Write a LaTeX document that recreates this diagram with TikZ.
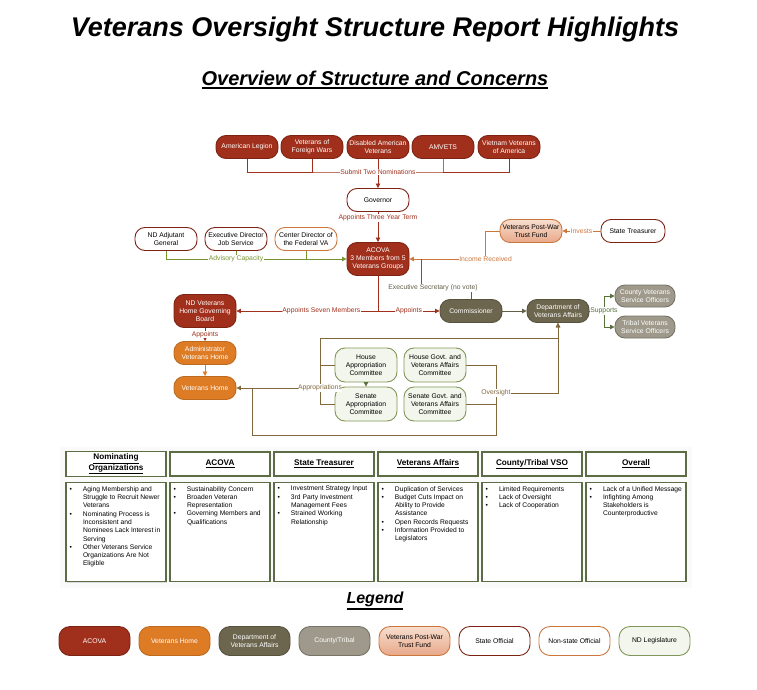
\documentclass[tikz,border=0pt]{standalone}
\usepackage{fontspec}
\setmainfont{Liberation Sans}
\usetikzlibrary{arrows.meta,positioning,shadows,calc}
\definecolor{acovared}{RGB}{160,48,28}
\definecolor{acovadark}{RGB}{125,35,20}
\definecolor{homeorange}{RGB}{222,124,38}
\definecolor{dvaolive}{RGB}{108,102,78}
\definecolor{vsogray}{RGB}{158,153,138}
\definecolor{trustorange}{RGB}{205,118,60}
\definecolor{trusttop}{RGB}{247,222,206}
\definecolor{trustbot}{RGB}{232,168,138}
\definecolor{legisgreen}{RGB}{128,150,88}
\definecolor{legisfill}{RGB}{243,246,236}
\definecolor{advgreen}{RGB}{118,148,52}
\definecolor{suppgreen}{RGB}{88,112,60}
\definecolor{apprbrown}{RGB}{128,104,60}
\definecolor{secgray}{RGB}{98,94,72}
\definecolor{tableline}{RGB}{92,108,68}
\newcommand{\thickul}[1]{\leavevmode\vtop{\hbox{#1}\kern1pt\hrule height 1.4pt}}
\newcommand{\bul}[1]{\hangindent=15pt\hangafter=1\noindent\makebox[15pt][l]{\hspace{1.5pt}\textbullet}#1\par}
\newcommand{\bodytext}[1]{\parbox[c][91pt][t]{96pt}{\fontsize{6.7}{8.3}\selectfont\raggedright #1}}
\tikzset{
  orgbox/.style={rectangle,rounded corners=10pt,line width=0.9pt,
    minimum width=62pt,minimum height=23pt,inner sep=1pt,align=center,
    font=\fontsize{6.8}{8}\selectfont},
  acovanode/.style={orgbox,fill=acovared,draw=acovadark,text=white},
  homenode/.style={orgbox,fill=homeorange,draw=homeorange!85!black,text=white},
  dvanode/.style={orgbox,fill=dvaolive,draw=dvaolive!80!black,text=white},
  vsonode/.style={orgbox,fill=vsogray,draw=vsogray!75!black,text=white},
  trustnode/.style={orgbox,top color=trusttop,bottom color=trustbot,draw=trustorange},
  statenode/.style={orgbox,fill=white,draw=acovadark},
  nonstatenode/.style={orgbox,fill=white,draw=trustorange},
  legisnode/.style={orgbox,fill=legisfill,draw=legisgreen},
  legbox/.style={minimum width=71pt,minimum height=29pt,rounded corners=11pt},
  lbl/.style={fill=white,inner sep=0.5pt,font=\fontsize{6.8}{8}\selectfont,text=#1},
  tip/.style={-{Triangle[length=4.5pt,width=4.5pt]}},
  redline/.style={line width=0.8pt,draw=acovared},
  redarrow/.style={redline,tip},
  advline/.style={line width=0.8pt,draw=advgreen},
  advarrow/.style={advline,tip},
  orgarrow/.style={line width=0.8pt,draw=trustorange,tip},
  secline/.style={line width=0.8pt,draw=secgray},
  grayarrow/.style={secline,tip},
  suppline/.style={line width=0.8pt,draw=suppgreen},
  supparrow/.style={suppline,tip},
  homearrow/.style={line width=0.8pt,draw=homeorange,tip},
  brnline/.style={line width=0.8pt,draw=apprbrown},
  brnarrow/.style={brnline,tip},
  hdrbox/.style={rectangle,draw=tableline,line width=1.2pt,fill=white,
    minimum width=100pt,minimum height=24pt,inner sep=2pt,align=center,
    font=\fontsize{8.2}{9.5}\selectfont\bfseries,
    drop shadow={opacity=0.25,shadow xshift=1pt,shadow yshift=-1.2pt}},
  bodybox/.style={rectangle,draw=tableline,line width=1.2pt,fill=white,
    minimum width=100pt,minimum height=99pt,inner sep=2pt,
    drop shadow={opacity=0.25,shadow xshift=1pt,shadow yshift=-1.2pt}},
}
\begin{document}
\begin{tikzpicture}[x=1pt,y=-1pt]
\useasboundingbox (0,0) rectangle (757,690);

%% ── titles ───────────────────────────────────────────────────────────────
\node[font=\fontsize{27}{30}\selectfont\bfseries\itshape] (title) at (375,30)
  {Veterans Oversight Structure Report Highlights};
\node[font=\fontsize{20}{24}\selectfont\bfseries\itshape] (subtitle) at (375,80)
  {\thickul{Overview of Structure and Concerns}};

%% ── nominating organizations ─────────────────────────────────────────────
\node[acovanode] (al)  at (247,147) {American Legion};
\node[acovanode] (vfw) at (312,147) {Veterans of\\Foreign Wars};
\node[acovanode] (dav) at (378,147) {Disabled American\\Veterans};
\node[acovanode] (amv) at (443,147) {AMVETS};
\node[acovanode] (vva) at (509,147) {Vietnam Veterans\\of America};
\node[statenode] (gov) at (378,200) {Governor};
\node[acovanode,minimum height=33pt] (acova) at (378,259)
  {ACOVA\\3 Members from 5\\Veterans Groups};

%% ── advisory and funding ─────────────────────────────────────────────────
\node[statenode] (adj)   at (166,239) {ND Adjutant\\General};
\node[statenode] (jobs)  at (236,239) {Executive Director\\Job Service};
\node[nonstatenode] (fedva) at (306,239) {Center Director of\\the Federal VA};
\node[trustnode] (trust) at (531,231) {Veterans Post-War\\Trust Fund};
\node[statenode,minimum width=64pt] (treas) at (633,231) {State Treasurer};

%% ── executive branch ─────────────────────────────────────────────────────
\node[dvanode] (comm) at (471,311) {Commissioner};
\node[dvanode] (dva)  at (558,311) {Department of\\Veterans Affairs};
\node[vsonode,minimum width=60pt,minimum height=22pt] (cvso) at (645,296)
  {County Veterans\\Service Officers};
\node[vsonode,minimum width=60pt,minimum height=22pt] (tvso) at (645,327)
  {Tribal Veterans\\Service Officers};

%% ── veterans home ────────────────────────────────────────────────────────
\node[acovanode,minimum height=33pt] (board) at (205,311)
  {ND Veterans\\Home Governing\\Board};
\node[homenode] (admin)   at (205,353) {Administrator\\Veterans Home};
\node[homenode] (vethome) at (205,388) {Veterans Home};

%% ── legislature ──────────────────────────────────────────────────────────
\node[legisnode,minimum height=34pt] (hac) at (366,365)
  {House\\Appropriation\\Committee};
\node[legisnode,minimum height=34pt] (sac) at (366,404)
  {Senate\\Appropriation\\Committee};
\node[legisnode,minimum height=34pt] (hgc) at (435,365)
  {House Govt. and\\Veterans Affairs\\Committee};
\node[legisnode,minimum height=34pt] (sgc) at (435,404)
  {Senate Govt. and\\Veterans Affairs\\Committee};

%% ── relationships ────────────────────────────────────────────────────────
% nominations to governor
\coordinate (nom) at (378,172);
\draw[redline] (al.south) |- (nom) -| (vva.south);
\draw[redline] (vfw.south) -- (vfw.south |- nom);
\draw[redline] (dav.south) -- (nom);
\draw[advline] (amv.south) -- (amv.south |- nom);
\draw[redarrow] (nom) node[lbl=acovared]{Submit Two Nominations} -- (gov.north);
\draw[redarrow] (gov.south) -- node[lbl=acovared,pos=0.2]{Appoints Three Year Term}
  (acova.north);
% advisory capacity
\draw[advarrow] (adj.south) |- (acova.west);
\draw[advline] (jobs.south) -- (jobs.south |- acova.west)
  node[lbl=advgreen]{Advisory Capacity};
\draw[advline] (fedva.south) -- (fedva.south |- acova.west);
% trust fund
\draw[orgarrow] (treas.west) -- node[lbl=trustorange]{Invests} (trust.east);
\draw[orgarrow] (trust.west) -- ++(-14,0) |- node[lbl=trustorange,pos=0.5]{Income Received}
  (acova.east);
% executive secretary
\coordinate (es) at (421,259);
\draw[secline] (comm.north) -- (comm.north |- 0,288) -| (es);
\node[lbl=secgray] (eslbl) at (433,288) {Executive Secretary (no vote)};
% appointments
\coordinate (apj) at (378,311);
\draw[redline] (acova.south) -- (apj);
\draw[redarrow] (apj) -- node[lbl=acovared,pos=0.4]{Appoints Seven Members} (board.east);
\draw[redarrow] (apj) -- node[lbl=acovared]{Appoints} (comm.west);
\draw[grayarrow] (comm.east) -- (dva.west);
% supports
\coordinate (sup) at (604,311);
\draw[suppline] (dva.east) -- (sup);
\draw[supparrow] (sup) |- (cvso.west);
\draw[supparrow] (sup) |- (tvso.west);
\node[lbl=suppgreen] at (sup) {Supports};
% veterans home chain
\draw[redarrow] (board.south) -- node[lbl=acovared]{Appoints} (admin.north);
\draw[homearrow] (admin.south) -- (vethome.north);
% appropriations
\draw[supparrow] (hac.south) -- (sac.north);
\coordinate (apr) at (320,388);
\draw[brnarrow] (hac.west) -| (320,338) -| (dva.south);
\draw[brnline] (sac.west) -| (320,365);
\draw[brnarrow] (apr) node[lbl=apprbrown]{Appropriations} -- (vethome.east);
% oversight
\coordinate (ovs) at (496,393);
\coordinate (ovb) at (496,435);
\coordinate (ovl) at (252,388);
\draw[brnline] (hgc.east) -| (ovb) -| (ovl);
\draw[brnline] (sgc.east) -- (sgc.east -| ovs);
\draw[brnarrow] (ovs) node[lbl=apprbrown]{Oversight} -| (dva.south);

%% ── concerns table ───────────────────────────────────────────────────────
\fill[black!2] (60,447) rectangle (692,588);
\node[hdrbox] (hnom) at (116,464) {\underline{Nominating}\\\underline{Organizations}};
\node[bodybox, below=5pt of hnom] (bnom) {\bodytext{%
  \bul{Aging Membership and\newline Struggle to Recruit Newer\newline Veterans}
  \bul{Nominating Process is\newline Inconsistent and\newline Nominees Lack Interest in\newline Serving}
  \bul{Other Veterans Service\newline Organizations Are Not\newline Eligible}}};
\node[hdrbox] (hacova) at (220,464) {\underline{ACOVA}};
\node[bodybox, below=5pt of hacova] (bacova) {\bodytext{%
  \bul{Sustainability Concern}
  \bul{Broaden Veteran\newline Representation}
  \bul{Governing Members and\newline Qualifications}}};
\node[hdrbox] (htreas) at (324,464) {\underline{State Treasurer}};
\node[bodybox, below=5pt of htreas] (btreas) {\bodytext{%
  \bul{Investment Strategy Input}
  \bul{3rd Party Investment\newline Management Fees}
  \bul{Strained Working\newline Relationship}}};
\node[hdrbox] (hva) at (428,464) {\underline{Veterans Affairs}};
\node[bodybox, below=5pt of hva] (bva) {\bodytext{%
  \bul{Duplication of Services}
  \bul{Budget Cuts Impact on\newline Ability to Provide\newline Assistance}
  \bul{Open Records Requests}
  \bul{Information Provided to\newline Legislators}}};
\node[hdrbox] (hvso) at (532,464) {\underline{County/Tribal VSO}};
\node[bodybox, below=5pt of hvso] (bvso) {\bodytext{%
  \bul{Limited Requirements}
  \bul{Lack of Oversight}
  \bul{Lack of Cooperation}}};
\node[hdrbox] (hall) at (636,464) {\underline{Overall}};
\node[bodybox, below=5pt of hall] (ball) {\bodytext{%
  \bul{Lack of a Unified Message}
  \bul{Infighting Among\newline Stakeholders is\newline Counterproductive}}};

%% ── legend ───────────────────────────────────────────────────────────────
\node[font=\fontsize{16}{19}\selectfont\bfseries\itshape] (legend) at (375,601)
  {\thickul{Legend}};
\node[acovanode,legbox]    (lgacova) at (94.5,641)  {ACOVA};
\node[homenode,legbox]     (lghome)  at (174.5,641) {Veterans Home};
\node[dvanode,legbox]      (lgdva)   at (254.5,641) {Department of\\Veterans Affairs};
\node[vsonode,legbox]      (lgvso)   at (334.5,641) {County/Tribal};
\node[trustnode,legbox]    (lgtrust) at (414.5,641) {Veterans Post-War\\Trust Fund};
\node[statenode,legbox]    (lgstate) at (494.5,641) {State Official};
\node[nonstatenode,legbox] (lgnon)   at (574.5,641) {Non-state Official};
\node[legisnode,legbox]    (lglegis) at (654.5,641) {ND Legislature};

\end{tikzpicture}
\end{document}
